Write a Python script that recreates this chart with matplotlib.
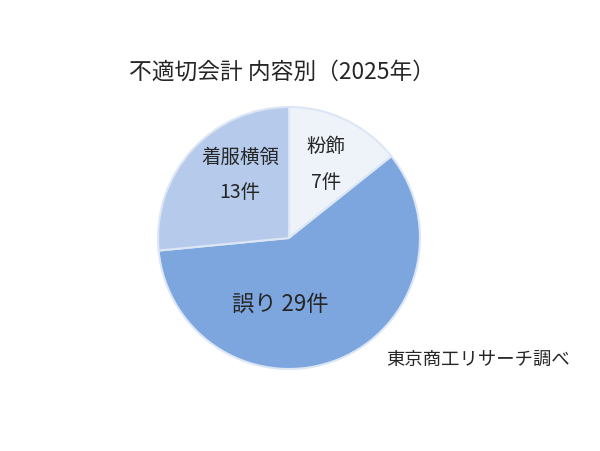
import matplotlib
matplotlib.use("Agg")
import matplotlib.pyplot as plt

plt.rcParams['font.family'] = ['Noto Sans CJK JP', 'DejaVu Sans']

categories = ['粉飾', '誤り', '着服横領']
counts = [7, 29, 13]
title = '不適切会計 内容別（2025年）'
source = '東京商工リサーチ調べ'

colors = ['#EEF3FA', '#7DA6DE', '#B6CBEC']
# label anchor points in pixel space (x, y from top), two-line labels for small slices
label_pos = [(326, 164.5), (280, 304), (240, 175)]
label_fmt = ['{}\n{}件', '{} {}件', '{}\n{}件']
label_size = [14, 16, 14]

fig = plt.figure(figsize=(6, 4.52), dpi=100)
ax = fig.add_axes([0, 0, 1, 1])

H = 452
ax.pie(counts, colors=colors, startangle=90, counterclock=False,
       center=(289, H - 239), radius=131,
       wedgeprops=dict(edgecolor='#DCE6F5', linewidth=1.5))

# pie() resets the limits, so set them afterwards
ax.set_xlim(0, 600)
ax.set_ylim(0, H)
ax.set_aspect('equal')
ax.axis('off')

for cat, n, (x, y), fmt, fs in zip(categories, counts, label_pos, label_fmt, label_size):
    ax.text(x, H - y, fmt.format(cat, n), ha='center', va='center',
            fontsize=fs, color='#262626', linespacing=1.9)

ax.text(129, H - 72, title, ha='left', va='center', fontsize=16.4, color='#262626')
ax.text(570, H - 360, source, ha='right', va='center', fontsize=13.2, color='#262626')

fig.savefig('out.png', dpi=100)
